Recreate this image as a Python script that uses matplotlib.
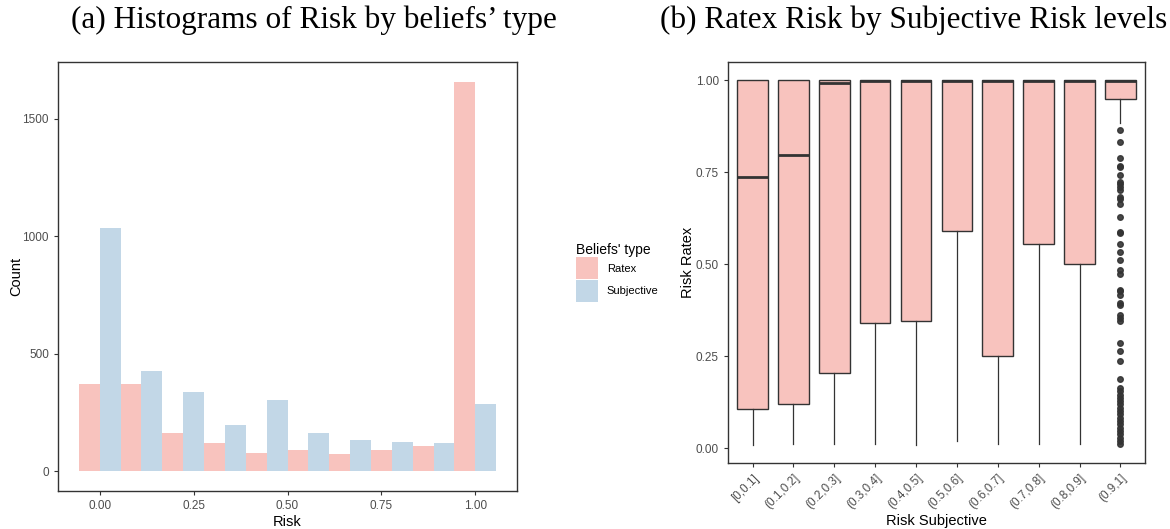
import numpy as np
import matplotlib
matplotlib.use('Agg')
import matplotlib.pyplot as plt
from matplotlib.patches import Patch

plt.rcParams['font.family'] = ['Liberation Sans', 'DejaVu Sans']

# histogram counts per bin (bins of width 1/9, centred on 0, 1/9, ..., 1)
bin_centers = np.arange(10) / 9
ratex_counts = [370, 370, 162, 120, 78, 90, 73, 90, 107, 1658]
subjective_counts = [1035, 429, 336, 196, 302, 162, 133, 124, 120, 285]

# box statistics of Ratex risk within subjective risk levels
levels = ['[0,0.1]', '(0.1,0.2]', '(0.2,0.3]', '(0.3,0.4]', '(0.4,0.5]',
          '(0.5,0.6]', '(0.6,0.7]', '(0.7,0.8]', '(0.8,0.9]', '(0.9,1]']
q1 = [0.108, 0.121, 0.205, 0.340, 0.347, 0.591, 0.250, 0.556, 0.500, 0.949]
med = [0.736, 0.797, 0.992, 0.999, 0.999, 0.999, 0.999, 0.999, 0.999, 0.999]
q3 = [1.0, 1.0, 1.0, 1.0, 1.0, 1.0, 1.0, 1.0, 1.0, 1.0]
whis_lo = [0.009, 0.011, 0.011, 0.011, 0.009, 0.020, 0.011, 0.011, 0.011, 0.884]
whis_hi = [1.0, 1.0, 1.0, 1.0, 1.0, 1.0, 1.0, 1.0, 1.0, 1.0]
outliers_last = [0.864, 0.832, 0.789, 0.766, 0.764, 0.742, 0.724, 0.717, 0.710,
                 0.703, 0.683, 0.676, 0.663, 0.629, 0.588, 0.584, 0.554, 0.532,
                 0.512, 0.485, 0.473, 0.431, 0.426, 0.417, 0.394, 0.390, 0.363,
                 0.354, 0.345, 0.286, 0.264, 0.238, 0.187, 0.164, 0.155, 0.146,
                 0.137, 0.128, 0.119, 0.110, 0.101, 0.092, 0.083, 0.074, 0.065,
                 0.056, 0.047, 0.038, 0.029, 0.020, 0.011]

red = '#F8C3BE'
blue = '#C2D7E7'
dark = '#333333'
tick_grey = '#4D4D4D'

fig = plt.figure(figsize=(11.7, 5.29), dpi=100)
ax1 = fig.add_axes([0.0496, 0.0718, 0.3923, 0.811])
ax2 = fig.add_axes([0.6222, 0.1248, 0.3564, 0.758])


def style(ax):
    for s in ax.spines.values():
        s.set_color(dark)
        s.set_linewidth(1.0)
    ax.tick_params(colors=dark, labelcolor=tick_grey, labelsize=8.5,
                   length=3, width=0.8)


# (a) dodged histogram
w = 1 / 9
ax1.bar(bin_centers - w / 4, ratex_counts, width=w / 2, color=red, linewidth=0)
ax1.bar(bin_centers + w / 4, subjective_counts, width=w / 2, color=blue, linewidth=0)
ax1.set_xlim(-0.111, 1.111)
ax1.set_ylim(-83, 1741)
ax1.set_xticks([0, 0.25, 0.5, 0.75, 1.0])
ax1.set_xticklabels(['0.00', '0.25', '0.50', '0.75', '1.00'])
ax1.set_yticks([0, 500, 1000, 1500])
ax1.set_xlabel('Risk', fontsize=10.5, labelpad=2)
ax1.set_ylabel('Count', fontsize=10.5)
ax1.yaxis.set_label_coords(-0.075, 0.5)
style(ax1)

fig.legend(handles=[Patch(facecolor=red, label='Ratex'),
                    Patch(facecolor=blue, label='Subjective'),],
           title="Beliefs' type", loc='upper left',
           bbox_to_anchor=(0.4837, 0.560), frameon=False, fontsize=8,
           title_fontsize=10, handlelength=1.98, handleheight=2.67,
           labelspacing=0.05, handletextpad=0.8, alignment='left')

# (b) boxplots
stats = []
for i in range(len(levels)):
    stats.append(dict(med=med[i], q1=q1[i], q3=q3[i], whislo=whis_lo[i],
                      whishi=whis_hi[i],
                      fliers=outliers_last if i == len(levels) - 1 else []))
ax2.bxp(stats, positions=np.arange(1, 11), widths=0.75, patch_artist=True,
        showcaps=False,
        boxprops=dict(facecolor=red, edgecolor=dark, linewidth=1.0),
        medianprops=dict(color=dark, linewidth=2.0, solid_capstyle='butt'),
        whiskerprops=dict(color=dark, linewidth=0.9),
        flierprops=dict(marker='o', markerfacecolor=dark, markeredgecolor=dark,
                        markersize=4, alpha=0.9))
ax2.set_xlim(0.4, 10.6)
ax2.set_ylim(-0.04, 1.0496)
ax2.set_yticks([0, 0.25, 0.5, 0.75, 1.0])
ax2.set_yticklabels(['0.00', '0.25', '0.50', '0.75', '1.00'])
ax2.set_xticks(np.arange(1, 11))
ax2.set_xticklabels(levels, rotation=45, ha='right', rotation_mode='anchor')
ax2.set_xlabel('Risk Subjective', fontsize=10.5, labelpad=2)
ax2.set_ylabel('Risk Ratex', fontsize=10.5)
ax2.yaxis.set_label_coords(-0.079, 0.5)
style(ax2)

fig.text(0.268, 0.962, '(a) Histograms of Risk by beliefs\u2019 type',
         family='Liberation Serif', fontsize=22.5, ha='center', va='center')
fig.text(0.781, 0.962, '(b) Ratex Risk by Subjective Risk levels',
         family='Liberation Serif', fontsize=22.5, ha='center', va='center')

fig.savefig('out.png', dpi=100)
